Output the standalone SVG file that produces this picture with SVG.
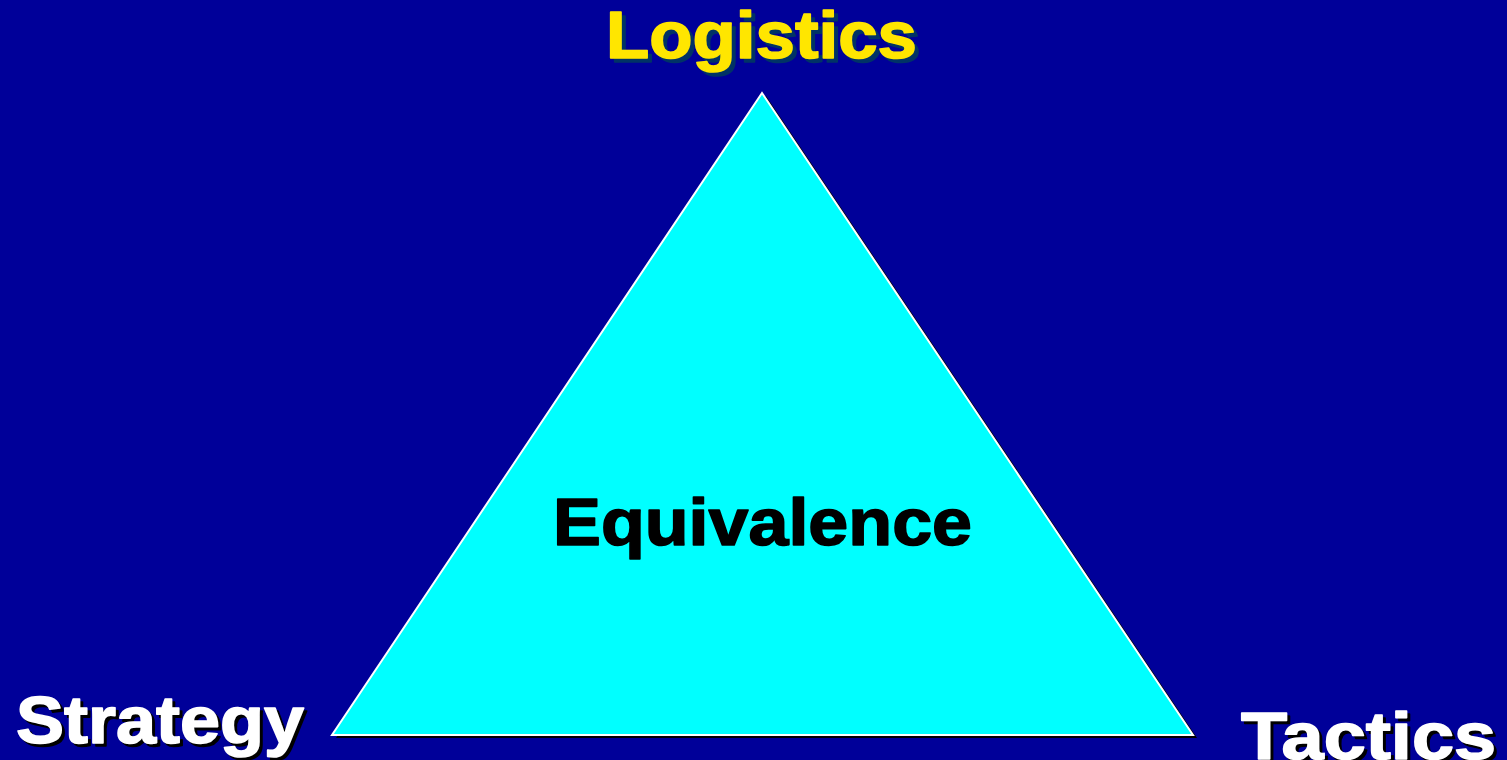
<svg xmlns="http://www.w3.org/2000/svg" width="1507" height="760" viewBox="0 0 1507 760">
<style>
.lbl{font-family:"Liberation Sans",Arial,sans-serif;font-weight:bold;font-size:67px;stroke-width:1.6;stroke-linejoin:round}
</style>
<rect width="1507" height="760" fill="#000099"/>
<g id="triangle">
<polygon points="766,96 336,738 1197,738" fill="#000000"/>
<polygon points="762,93 332,735 1193,735" fill="#00FFFF" stroke="#FFFFFF" stroke-width="2"/>
</g>
<g id="equivalence">
<text class="lbl" x="553" y="545" textLength="419" lengthAdjust="spacingAndGlyphs" fill="#000000" stroke="#000000">Equivalence</text>
</g>
<g id="logistics">
<text class="lbl" x="610" y="62" textLength="311" lengthAdjust="spacingAndGlyphs" fill="#003366" stroke="#003366">Logistics</text>
<text class="lbl" x="606" y="58" textLength="311" lengthAdjust="spacingAndGlyphs" fill="#FFE600" stroke="#FFE600">Logistics</text>
</g>
<g id="strategy">
<text class="lbl" x="19" y="746" textLength="288" lengthAdjust="spacingAndGlyphs" fill="#000000" stroke="#000000">Strategy</text>
<text class="lbl" x="16" y="743" textLength="288" lengthAdjust="spacingAndGlyphs" fill="#FFFFFF" stroke="#FFFFFF">Strategy</text>
</g>
<g id="tactics">
<text class="lbl" x="1244" y="762" textLength="255" lengthAdjust="spacingAndGlyphs" fill="#000000" stroke="#000000">Tactics</text>
<text class="lbl" x="1241" y="759" textLength="255" lengthAdjust="spacingAndGlyphs" fill="#FFFFFF" stroke="#FFFFFF">Tactics</text>
</g>
<g id="connectors"></g>
</svg>
